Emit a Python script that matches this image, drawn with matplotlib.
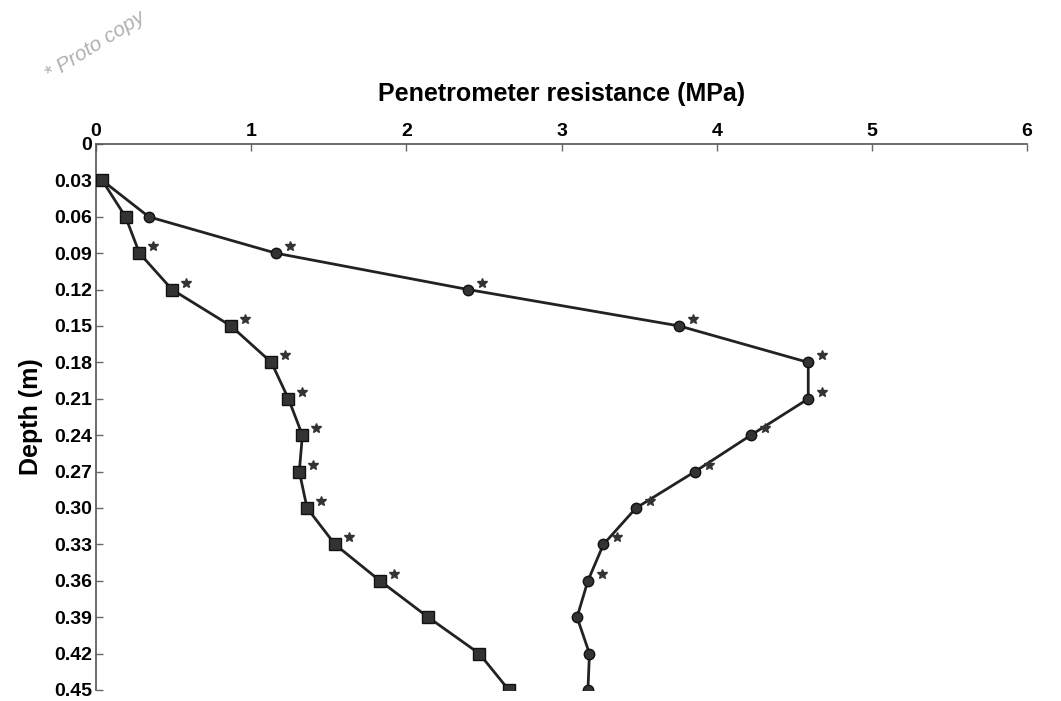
import matplotlib
matplotlib.use("Agg")
import matplotlib.pyplot as plt
from matplotlib.transforms import offset_copy

plt.rcParams['font.family'] = ['Liberation Sans', 'DejaVu Sans']
plt.rcParams['font.weight'] = 'bold'

depth = [0.03, 0.06, 0.09, 0.12, 0.15, 0.18, 0.21, 0.24, 0.27, 0.30, 0.33, 0.36, 0.39, 0.42, 0.45]
squares = [0.04, 0.19, 0.28, 0.49, 0.87, 1.13, 1.24, 1.33, 1.31, 1.36, 1.54, 1.83, 2.14, 2.47, 2.66]
circles = [0.04, 0.34, 1.16, 2.40, 3.76, 4.59, 4.59, 4.22, 3.86, 3.48, 3.27, 3.17, 3.10, 3.18, 3.17]
# depths where a significant difference is marked with an asterisk
sq_star = [0.09, 0.12, 0.15, 0.18, 0.21, 0.24, 0.27, 0.30, 0.33, 0.36]
ci_star = [0.09, 0.12, 0.15, 0.18, 0.21, 0.24, 0.27, 0.30, 0.33, 0.36]
yticks = [0, 0.03, 0.06, 0.09, 0.12, 0.15, 0.18, 0.21, 0.24, 0.27, 0.30, 0.33, 0.36, 0.39, 0.42, 0.45]
ytick_labels = ['0', '0.03', '0.06', '0.09', '0.12', '0.15', '0.18', '0.21', '0.24', '0.27',
                '0.30', '0.33', '0.36', '0.39', '0.42', '0.45']
xticks = [0, 1, 2, 3, 4, 5, 6]

fig = plt.figure(figsize=(10.61, 7.01), dpi=100)
ax = fig.add_axes([0.0905, 0.0157, 0.8775, 0.7789])

ax.plot(circles, depth, color='#222222', lw=2, marker='o', ms=7.5,
        mfc='#333333', mec='#111111', zorder=2)
ax.plot(squares, depth, color='#222222', lw=2, marker='s', ms=9,
        mfc='#333333', mec='#111111', zorder=3)

# asterisks sit a little up and right of the marker
star_tr = offset_copy(ax.transData, fig=fig, x=10, y=5, units='points')
sq_x = [squares[depth.index(d)] for d in sq_star]
ci_x = [circles[depth.index(d)] for d in ci_star]
ax.plot(sq_x, sq_star, ls='none', marker='*', ms=7.5, color='#333333', transform=star_tr)
ax.plot(ci_x, ci_star, ls='none', marker='*', ms=7.5, color='#333333', transform=star_tr)

ax.set_xlim(0, 6)
ax.set_ylim(0.45, 0)
ax.xaxis.tick_top()
ax.xaxis.set_label_position('top')
ax.set_xticks(xticks)
ax.set_yticks(yticks)
ax.set_yticklabels(ytick_labels)
ax.tick_params(axis='both', direction='in', length=5, width=1, color='#666666',
               labelsize=14, pad=3)
for s in ['bottom', 'right']:
    ax.spines[s].set_visible(False)
for s in ['top', 'left']:
    ax.spines[s].set_color('#555555')
    ax.spines[s].set_linewidth(1.2)

ax.set_xlabel('Penetrometer resistance (MPa)', fontsize=18, fontweight='bold', labelpad=16)
ax.set_ylabel('Depth (m)', fontsize=18, fontweight='bold', labelpad=8)

fig.text(0.09, 0.935, '* Proto copy', rotation=32, fontsize=15, color='#b0b0b0',
         style='italic', fontweight='normal', ha='center', va='center')

fig.savefig('out.png', dpi=100)
